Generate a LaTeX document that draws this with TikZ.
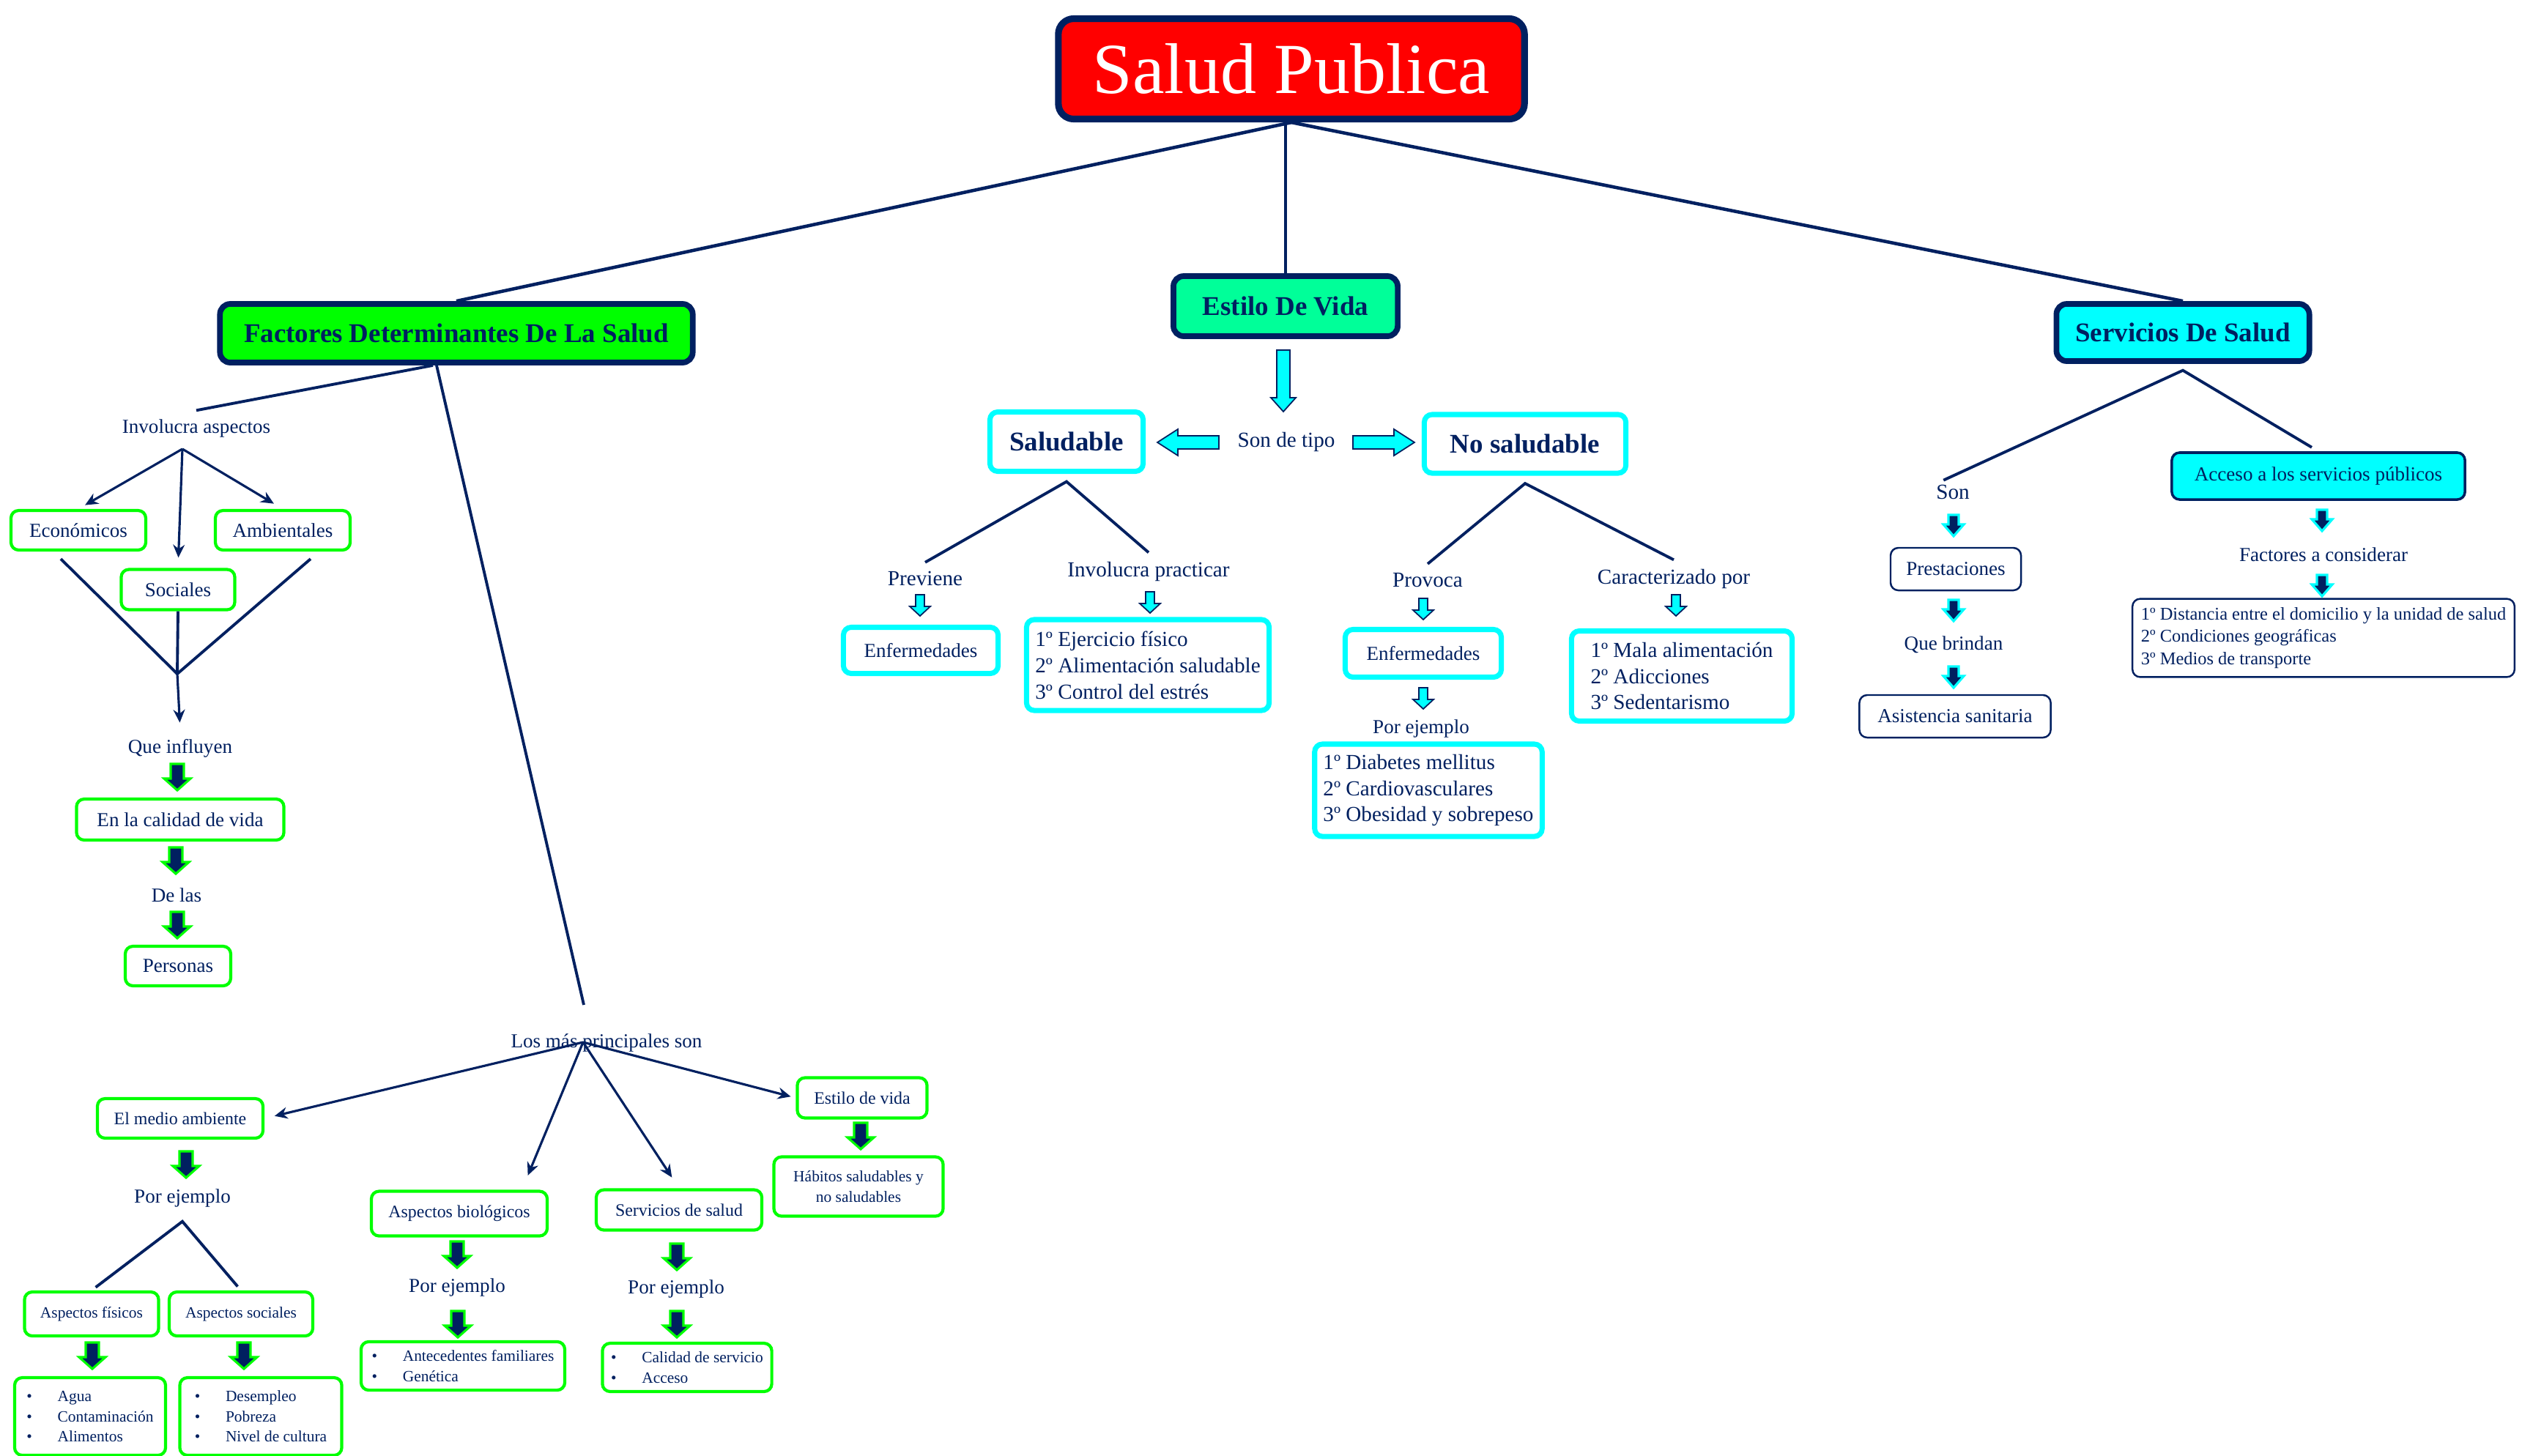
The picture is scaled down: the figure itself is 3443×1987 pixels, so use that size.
\documentclass[tikz,border=0pt]{standalone}
\usepackage{fontspec}
\setmainfont{Liberation Serif}
\usepackage{tikz}
\usetikzlibrary{positioning,arrows.meta,calc}
\definecolor{navy}{RGB}{0,32,96}
\definecolor{vgreen}{RGB}{0,255,0}
\definecolor{vcyan}{RGB}{0,255,255}
\definecolor{mint}{RGB}{0,255,153}
\newcommand{\blockarrow}[5]{\filldraw[#1] ({-#2},0) -- (#2,0) -- (#2,#4) -- (#3,#4) -- (0,#5) -- ({-#3},#4) -- ({-#2},#4) -- cycle;}
\newcommand{\bul}[1]{\makebox[12pt][l]{\textbullet}#1}
\tikzset{
	every node/.style={text=navy, font=\fontsize{7.7}{9.2}\selectfont},
	txb/.style={font=\fontsize{8.3}{10.2}\selectfont},
	txc/.style={font=\fontsize{6.8}{8.2}\selectfont},
	txd/.style={font=\fontsize{6.1}{7.8}\selectfont},
	txe/.style={font=\fontsize{6.95}{8.7}\selectfont},
	hfont/.style={font=\fontsize{10.5}{12}\selectfont\bfseries},
	wh/.style 2 args={minimum width=#1cm, minimum height=#2cm},
	titlebox/.style={fill=red, draw=navy, line width=2.6pt, rounded corners=6pt, text=white, font=\fontsize{27.9}{30}\selectfont},
	head/.style={draw=navy, line width=2.2pt, rounded corners=4pt, hfont},
	gbox/.style={draw=vgreen, line width=1.2pt, rounded corners=3pt},
	cbox/.style={draw=vcyan, line width=2pt, rounded corners=3pt},
	nbox/.style={draw=navy, line width=0.7pt, rounded corners=3pt},
	link/.style={draw=navy, line width=1.1pt},
	arr/.style={draw=navy, line width=0.9pt, -{Stealth[length=5pt,width=4.5pt]}},
	garr/.style={draw=vgreen, fill=navy, line width=0.9pt},
	carr/.style={draw=navy, fill=vcyan, line width=0.5pt},
	narr/.style={draw=vcyan, fill=navy, line width=0.9pt}
}

\begin{document}
\begin{tikzpicture}[x=0.01cm, y=-0.01cm]
				\useasboundingbox (0,0) rectangle (3443,1987);
				\path[fill=white] (0,0) rectangle (3443,1987);

				\node[titlebox, wh={6.36}{1.37}] (salud) at (1763,94) {Salud Publica};
				\node[head, fill=vgreen, wh={6.45}{.80}] (fds) at (623,455) {Factores Determinantes De La Salud};
				\node[head, fill=mint, wh={3.06}{.82}] (edv) at (1755,418) {Estilo De Vida};
				\node[head, fill=vcyan, wh={3.45}{.78}] (sds) at (2980,454) {Servicios De Salud};

				\draw[link, line width=1.3pt] (salud.south) -- (fds.north);
				\draw[link, line width=1.3pt] (salud.south -| edv.north) -- (edv.north);
				\draw[link, line width=1.3pt] (salud.south) -- (sds.north);

				% factores
				\node (ia) at (268,585) {Involucra aspectos};
				\coordinate (iafan) at (249,613);
				\node[gbox, wh={1.84}{.54}] (eco) at (107,724) {Económicos};
				\node[gbox, wh={1.84}{.54}] (amb) at (386,724) {Ambientales};
				\node[gbox, wh={1.55}{.55}] (soc) at (243,805) {Sociales};
				\coordinate (vjoin) at (242,920);
				\node (qi) at (246,1022) {Que influyen};
				\node[gbox, wh={2.83}{.56}] (cvida) at (246,1119) {En la calidad de vida};
				\node (delas) at (241,1222) {De las};
				\node[gbox, wh={1.44}{.54}] (pers) at (243,1319) {Personas};

				\draw[link] ($(fds.south)+(-32,0)$) -- (ia.north);
				\draw[arr, shorten >=3pt] (iafan) -- (eco.north);
				\draw[arr, shorten >=4pt] (iafan) -- (soc.north);
				\draw[arr, shorten >=4pt] (iafan) -- (amb.north);
				\draw[link] ($(eco.south)+(-24,10)$) -- (vjoin) -- ($(amb.south)+(38,10)$);
				\draw[link] (soc.south) -- (vjoin);
				\draw[arr, shorten >=3pt] (vjoin) -- (qi.north);

				\begin{scope}[shift={(242,1043)}]
					\blockarrow{garr}{9}{18}{20}{36}
				\end{scope}
				\begin{scope}[shift={(240,1157)}]
					\blockarrow{garr}{9}{18}{20}{36}
				\end{scope}
				\begin{scope}[shift={(242,1245)}]
					\blockarrow{garr}{9}{18}{20}{36}
				\end{scope}

				\coordinate (lmtop) at (797,1372);
				\draw[link] ($(fds.south)+(-27,0)$) -- (lmtop);
				\node (lmp) at (828,1424) {Los más principales son};
				\coordinate (lmfan) at (796,1423);
				\node[gbox, txc, wh={2.26}{.54}] (medio) at (246,1527) {El medio ambiente};
				\node[gbox, txc, wh={2.40}{.61}] (bio) at (627,1657) {Aspectos biológicos};
				\node[gbox, txc, wh={2.26}{.55}] (srv) at (927,1652) {Servicios de salud};
				\node[gbox, txc, wh={1.77}{.55}] (ev) at (1177,1499) {Estilo de vida};
				\node[gbox, txd, wh={2.31}{.81}, align=center] (hab) at (1172,1620) {Hábitos saludables y\\no saludables};

				\draw[arr, shorten >=4pt] (lmfan) -- (medio.east);
				\draw[arr, shorten >=6pt] (lmfan) -- ($(bio.north)!.7!(bio.north east)$);
				\draw[arr, shorten >=5pt] (lmfan) -- (srv.north);
				\draw[arr, shorten >=2pt] (lmfan) -- (ev.west);

				\begin{scope}[shift={(254,1572)}]
					\blockarrow{garr}{9}{18}{20}{36}
				\end{scope}
				\node (pe1) at (249,1636) {Por ejemplo};
				\node[gbox, txd, wh={1.83}{.60}] (afis) at (125,1794) {Aspectos físicos};
				\node[gbox, txd, wh={1.96}{.60}] (asoc) at (329,1794) {Aspectos sociales};
				\draw[link, shorten <=2pt, shorten >=2pt] (afis.north) -- ([yshift=-2pt]pe1.south) -- (asoc.north);
				\begin{scope}[shift={(126,1833)}]
					\blockarrow{garr}{9}{18}{20}{36}
				\end{scope}
				\begin{scope}[shift={(333,1833)}]
					\blockarrow{garr}{9}{18}{20}{36}
				\end{scope}
				\node[gbox, txd, wh={2.06}{1.06}, align=left] (lfis) at (123,1934) {\bul{Agua}\\\bul{Contaminación}\\\bul{Alimentos}};
				\node[gbox, txd, wh={2.21}{1.06}, align=left] (lsoc) at (356,1934) {\bul{Desempleo}\\\bul{Pobreza}\\\bul{Nivel de cultura}};

				\begin{scope}[shift={(624,1695)}]
					\blockarrow{garr}{9}{18}{20}{36}
				\end{scope}
				\node (pe2) at (624,1758) {Por ejemplo};
				\begin{scope}[shift={(625,1790)}]
					\blockarrow{garr}{9}{18}{20}{36}
				\end{scope}
				\node[gbox, txd, wh={2.78}{.62}, align=left] (lbio) at (632,1865) {\bul{Antecedentes familiares}\\\bul{Genética}};

				\begin{scope}[shift={(924,1698)}]
					\blockarrow{garr}{9}{18}{20}{36}
				\end{scope}
				\node (pe3) at (923,1760) {Por ejemplo};
				\begin{scope}[shift={(924,1790)}]
					\blockarrow{garr}{9}{18}{20}{36}
				\end{scope}
				\node[gbox, txd, wh={2.27}{.56}, align=left] (lsrv) at (938,1867) {\bul{Calidad de servicio}\\\bul{Acceso}};

				\begin{scope}[shift={(1175,1533)}]
					\blockarrow{garr}{9}{18}{20}{36}
				\end{scope}

				% estilo de vida
				\begin{scope}[shift={(1752,478)}]
					\blockarrow{carr}{9}{17}{65}{84}
				\end{scope}
				\node[txb] (sdt) at (1756,603) {Son de tipo};
				\begin{scope}[shift={(1664,604)}, rotate=-90]
					\blockarrow{carr}{9}{18}{56}{84}
				\end{scope}
				\begin{scope}[shift={(1847,604)}, rotate=90]
					\blockarrow{carr}{9}{18}{56}{84}
				\end{scope}
				\node[cbox, hfont, wh={2.09}{.81}] (sal) at (1456,603) {Saludable};
				\node[cbox, hfont, wh={2.75}{.80}] (nsal) at (2082,606) {No saludable};

				\node[txb] (prev) at (1263,790) {Previene};
				\node[txb] (invp) at (1568,780) {Involucra practicar};
				\draw[link] (prev.north) -- ([yshift=-3pt]sal.south) -- (invp.north);
				\begin{scope}[shift={(1256,812)}]
					\blockarrow{carr}{6}{14}{16}{29}
				\end{scope}
				\begin{scope}[shift={(1570,808)}]
					\blockarrow{carr}{6}{14}{16}{29}
				\end{scope}
				\node[cbox, wh={2.11}{.63}] (enf1) at (1257,888) {Enfermedades};
				\node[cbox, txb, wh={3.31}{1.24}, align=left] (lsal) at (1567,908) {1º Ejercicio físico\\2º Alimentación saludable\\3º Control del estrés};

				\node[txb] (prov) at (1949,792) {Provoca};
				\node[txb] (carp) at (2285,790) {Caracterizado por};
				\draw[link] (prov.north) -- ([yshift=-3pt]nsal.south) -- (carp.north);
				\begin{scope}[shift={(1943,817)}]
					\blockarrow{carr}{6}{14}{16}{29}
				\end{scope}
				\begin{scope}[shift={(2288,812)}]
					\blockarrow{carr}{6}{14}{16}{29}
				\end{scope}
				\node[cbox, wh={2.13}{.65}] (enf2) at (1943,892) {Enfermedades};
				\begin{scope}[shift={(1943,939)}]
					\blockarrow{carr}{6}{14}{16}{29}
				\end{scope}
				\node (pe4) at (1940,995) {Por ejemplo};
				\node[cbox, txb, wh={3.02}{1.26}, align=left] (lnsal) at (1950,1079) {1º Diabetes mellitus\\2º Cardiovasculares\\3º Obesidad y sobrepeso};
				\node[cbox, txb, wh={3.01}{1.23}, align=left] (lcar) at (2296,923) {1º Mala alimentación\\2º Adicciones\\3º Sedentarismo};

				% servicios
				\node[txb] (son) at (2666,672) {Son};
				\node[nbox, fill=vcyan, line width=1pt, wh={4.00}{.64}] (acc) at (3165,650) {Acceso a los servicios públicos};
				\draw[link, shorten <=-4pt, shorten >=3pt] (son.north) -- ([yshift=-2.5pt]sds.south) -- (acc.north);
				\begin{scope}[shift={(2667,703)}]
					\blockarrow{narr}{7}{14}{13}{29}
				\end{scope}
				\node[nbox, wh={1.78}{.58}] (prest) at (2670,777) {Prestaciones};
				\begin{scope}[shift={(2667,819)}]
					\blockarrow{narr}{7}{14}{13}{29}
				\end{scope}
				\node (qb) at (2667,880) {Que brindan};
				\begin{scope}[shift={(2667,910)}]
					\blockarrow{narr}{7}{14}{13}{29}
				\end{scope}
				\node[nbox, wh={2.61}{.58}] (asis) at (2669,978) {Asistencia sanitaria};
				\begin{scope}[shift={(3170,696)}]
					\blockarrow{narr}{7}{14}{13}{29}
				\end{scope}
				\node (fac) at (3172,757) {Factores a considerar};
				\begin{scope}[shift={(3170,785)}]
					\blockarrow{narr}{7}{14}{13}{29}
				\end{scope}
				\node[nbox, txe, wh={5.06}{.96}, align=left] (lacc) at (3172,871) {1º Distancia entre el domicilio y la unidad de salud\\2º Condiciones geográficas\\3º Medios de transporte};

\end{tikzpicture}
\end{document}
